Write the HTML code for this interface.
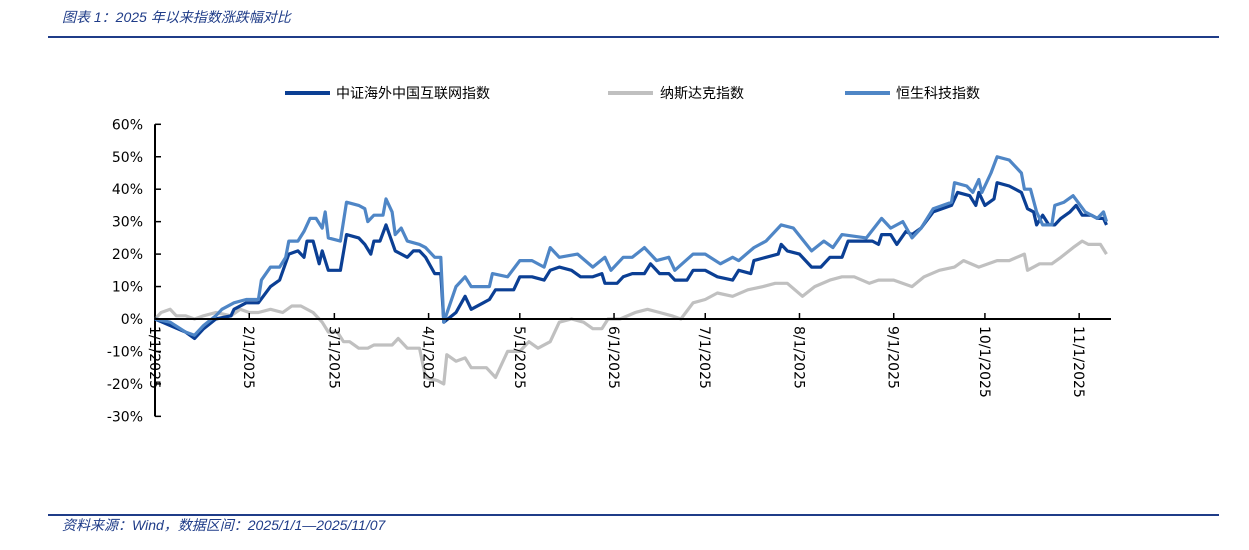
<!DOCTYPE html>
<html><head><meta charset="utf-8"><style>
body{margin:0;background:#fff;}
#wrap{position:relative;width:1249px;height:550px;overflow:hidden;font-family:"Liberation Sans","Noto Sans CJK SC",sans-serif;}
.t{position:absolute;font-style:italic;color:#1f3c88;font-size:14px;}
</style></head><body>
<div id="wrap">
<div class="t" style="left:62px;top:7px">图表 1：2025 年以来指数涨跌幅对比</div>
<div style="position:absolute;left:48px;top:36px;width:1171px;height:2px;background:#1f3c88"></div>
<div style="position:absolute;left:48px;top:514px;width:1171px;height:2px;background:#1f3c88"></div>
<div class="t" style="left:62px;top:515px">资料来源：Wind，数据区间：2025/1/1—2025/11/07</div>
<svg id="chart" width="1249" height="550" style="position:absolute;left:0;top:0"></svg>
</div>
<script>
const seriesNames=["中证海外中国互联网指数","纳斯达克指数","恒生科技指数"];
const yTicks=[60,50,40,30,20,10,0,-10,-20,-30];
const xTickDays=[0,31,59,90,120,151,181,212,243,273,304];
const xTickLabels=["1/1/2025","2/1/2025","3/1/2025","4/1/2025","5/1/2025","6/1/2025","7/1/2025","8/1/2025","9/1/2025","10/1/2025","11/1/2025"];
const darkDays=[0,10,13,16,20,25,26,30,34,38,41,44,47,49,50,52,54,55,57,61,63,67,69,71,72,74,76,79,83,85,87,89,92,94,95,99,102,104,108,110,112,118,120,124,128,130,133,137,140,144,147,148,152,154,157,161,163,166,169,171,175,177,181,185,190,192,196,197,201,205,206,208,212,216,219,222,226,228,232,236,238,239,242,244,247,249,252,256,262,264,268,270,271,273,276,277,281,285,287,289,290,292,294,296,298,301,303,305,308,310,312,313];
const darkVals=[0,-4,-6,-3,0,1,3,5,5,10,12,20,21,19,24,24,17,21,15,15,26,25,23,20,24,24,29,21,19,21,21,19,14,14,-1,2,7,3,5,6,9,9,13,13,12,15,16,15,13,13,14,11,11,13,14,14,17,14,14,12,12,15,15,13,12,15,14,18,19,20,23,21,20,16,16,19,19,24,24,24,23,26,26,23,27,26,28,33,35,39,38,35,39,35,37,42,41,39,34,33,29,32,29,29,31,33,35,32,32,31,31,29];
const nasDays=[0,2,5,7,10,13,16,20,25,28,31,34,38,42,45,48,52,55,57,60,62,64,67,70,72,75,78,80,83,87,89,93,95,96,99,102,104,109,112,116,120,123,126,130,133,137,141,144,147,149,153,158,162,166,170,173,177,181,185,190,195,200,204,208,213,217,222,226,230,235,238,243,249,253,258,263,266,271,277,281,286,287,291,295,298,302,305,307,311,313];
const nasVals=[0,2,3,1,1,0,1,2,1,3,2,2,3,2,4,4,2,-1,-4,-4,-7,-7,-9,-9,-8,-8,-8,-6,-9,-9,-18,-19,-20,-11,-13,-12,-15,-15,-18,-10,-10,-7,-9,-7,-1,0,-1,-3,-3,0,0,2,3,2,1,0,5,6,8,7,9,10,11,11,7,10,12,13,13,11,12,12,10,13,15,16,18,16,18,18,20,15,17,17,19,22,24,23,23,20];
const hsDays=[0,5,10,13,16,20,22,26,30,34,35,38,41,43,44,47,49,51,53,55,56,57,61,63,67,69,70,72,75,76,78,79,81,83,87,89,92,94,95,99,102,104,110,111,116,120,124,128,130,133,139,144,148,150,154,157,161,165,169,171,177,181,186,190,192,197,201,206,210,216,220,223,226,234,239,242,246,249,252,256,262,263,267,269,271,272,275,277,281,285,286,288,290,292,295,296,299,302,306,310,312,313];
const hsVals=[0,-1,-4,-5,-2,1,3,5,6,6,12,16,16,19,24,24,27,31,31,28,33,25,24,36,35,34,30,32,32,37,33,26,28,24,23,22,19,19,-1,10,13,10,10,14,13,18,18,16,22,19,20,16,19,15,19,19,22,18,19,15,20,20,17,19,18,22,24,29,28,21,24,22,26,25,31,28,30,25,28,34,36,42,41,39,43,39,45,50,49,45,40,40,33,29,29,35,36,38,33,31,33,30];
const NS="http://www.w3.org/2000/svg";
const svg=document.getElementById('chart');
const X0=155,PXD=3.04,Y0=319,PXV=3.245;
function xs(d){return X0+d*PXD;}
function ys(v){return Y0-v*PXV;}
function mk(tag,attrs){const e=document.createElementNS(NS,tag);for(const k in attrs)e.setAttribute(k,attrs[k]);svg.appendChild(e);return e;}
// y axis
let ya=mk('line',{x1:X0,y1:ys(60),x2:X0,y2:ys(-30),stroke:'#000','stroke-width':2});


yTicks.forEach(v=>{
 let tk=mk('line',{x1:X0,y1:ys(v),x2:X0+6,y2:ys(v),stroke:'#000','stroke-width':1.5});
 
 
 let t=mk('text',{x:143,y:ys(v)+5,'text-anchor':'end','font-size':14,'font-family':'DejaVu Sans, Liberation Sans, sans-serif'});
 t.textContent=v+'%';
 
 
});
// series
const series=[[darkDays,darkVals,'#0b3f94'],[nasDays,nasVals,'#c0c0c0'],[hsDays,hsVals,'#4f86c6']];
const order=[1,0,2];
order.forEach(i=>{
 const [d,v,c]=series[i];
 const pts=d.map((dd,j)=>xs(dd).toFixed(1)+','+ys(v[j]).toFixed(1)).join(' ');
 let p=mk('polyline',{points:pts,fill:'none',stroke:c,'stroke-width':3.2,'stroke-linejoin':'round'});
 
 
});
// x axis
let xa=mk('line',{x1:X0,y1:Y0,x2:1111,y2:Y0,stroke:'#000','stroke-width':2});


xTickDays.forEach((d,i)=>{
 let tk=mk('line',{x1:xs(d),y1:Y0,x2:xs(d),y2:Y0-6,stroke:'#000','stroke-width':1.5});
 
 
 let t=mk('text',{x:0,y:0,'font-size':14,'font-family':'DejaVu Sans, Liberation Sans, sans-serif',transform:`translate(${xs(d)-5},326) rotate(90)`});
 t.textContent=xTickLabels[i];
 
 
});
// legend
const lx=[[285,336],[608,660],[845,896]];
series.forEach((s,i)=>{
 let l=mk('line',{x1:lx[i][0],y1:93,x2:lx[i][0]+45,y2:93,stroke:s[2],'stroke-width':4});
 
 
 let t=mk('text',{x:lx[i][1],y:98,'font-size':14,'font-family':'Liberation Sans, Noto Sans CJK SC, sans-serif'});
 t.textContent=seriesNames[i];
 
 
});
</script>
</body></html>
